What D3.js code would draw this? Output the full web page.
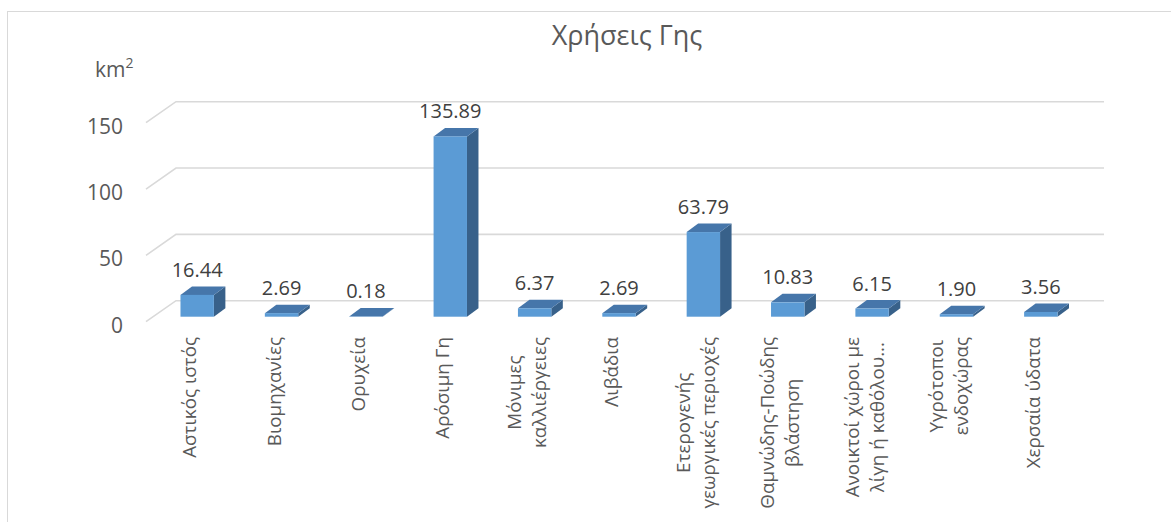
<!DOCTYPE html>
<html>
<head>
<meta charset="utf-8">
<script src="https://cdn.jsdelivr.net/npm/d3@7"></script>
<style>
  html, body { margin: 0; padding: 0; background: #fff; }
  svg { display: block; font-family: "Open Sans", "Noto Sans", sans-serif; }
</style>
</head>
<body>
<svg id="chart" width="1171" height="522"></svg>
<script>
// Land-use categories (line breaks mark wrapped axis labels)
const categories = [
  "Αστικός ιστός",
  "Βιομηχανίες",
  "Ορυχεία",
  "Αρόσιμη Γη",
  "Μόνιμες\nκαλλιέργειες",
  "Λιβάδια",
  "Ετερογενής\nγεωργικές περιοχές",
  "Θαμνώδης-Ποώδης\nβλάστηση",
  "Ανοικτοί χώροι με\nλίγη ή καθόλου...",
  "Υγρότοποι\nενδοχώρας",
  "Χερσαία ύδατα"
];
// Area in km²
const values = [16.44, 2.69, 0.18, 135.89, 6.37, 2.69, 63.79, 10.83, 6.15, 1.90, 3.56];
const yTicks = [0, 50, 100, 150];
const titleText = "Χρήσεις Γης";
const unitText = "km";

const svg = d3.select("#chart");

// Outer chart frame
svg.append("rect")
  .attr("x", 7.5).attr("y", 11.5)
  .attr("width", 1200).attr("height", 600)
  .attr("fill", "none").attr("stroke", "#d9d9d9").attr("stroke-width", 1);

// Perspective: the back wall is shifted right/up from the front floor edge
const depth = { dx: 30, dy: -21 };
const barOffset = { dx: 9, dy: -5 };    // bar front face inside the floor
const barDepth = { dx: 11.5, dy: -8.5 };
const barWidth = 33.4;

// Back-wall value scale
const y = d3.scaleLinear().domain([0, 150]).range([300.7, 101.7]);
// Front floor category scale
const x = d3.scaleBand().domain(categories).range([146, 1074]).padding(0);
const wallRight = 1104;

// Gridlines: diagonal on the side wall + horizontal on the back wall
const grid = svg.append("g").attr("class", "grid");
yTicks.forEach(t => {
  const yb = y(t);
  grid.append("path")
    .attr("d", `M${x.range()[0]},${yb - depth.dy}L${x.range()[0] + depth.dx},${yb}L${wallRight},${yb}`)
    .attr("fill", "none").attr("stroke", "#d9d9d9").attr("stroke-width", 1.6);
});

// Y tick labels at the front edge
svg.append("g").selectAll("text").data(yTicks).join("text")
  .attr("x", 123)
  .attr("y", d => y(d) - depth.dy + 3)
  .attr("text-anchor", "end")
  .attr("dominant-baseline", "central")
  .attr("font-size", 21)
  .attr("fill", "#595959")
  .text(d => d);

// Unit label
const unit = svg.append("text")
  .attr("x", 95).attr("y", 77)
  .attr("font-size", 21).attr("fill", "#595959");
unit.append("tspan").text(unitText);
unit.append("tspan").attr("dy", -9).attr("font-size", 14).text("2");

// Title
svg.append("text")
  .attr("x", 627).attr("y", 45)
  .attr("text-anchor", "middle")
  .attr("font-size", 27)
  .attr("fill", "#595959")
  .text(titleText);

// 3D bars
const baseY = y(0) - depth.dy + barOffset.dy; // front-bottom of bar faces
const bars = svg.append("g").attr("class", "bars");
categories.forEach((c, i) => {
  const v = values[i];
  const h = y(0) - y(v);
  const x0 = x(c) + x.bandwidth() / 2 + barOffset.dx - barWidth / 2;
  const x1 = x0 + barWidth;
  const yTop = baseY - h;
  const g = bars.append("g");
  // right side
  g.append("polygon")
    .attr("points", [[x1, baseY], [x1 + barDepth.dx, baseY + barDepth.dy],
      [x1 + barDepth.dx, yTop + barDepth.dy], [x1, yTop]].map(p => p.join(",")).join(" "))
    .attr("fill", "#38618a");
  // top
  g.append("polygon")
    .attr("points", [[x0, yTop], [x1, yTop], [x1 + barDepth.dx, yTop + barDepth.dy],
      [x0 + barDepth.dx, yTop + barDepth.dy]].map(p => p.join(",")).join(" "))
    .attr("fill", "#4676aa");
  // front
  g.append("rect")
    .attr("x", x0).attr("y", yTop)
    .attr("width", barWidth).attr("height", h)
    .attr("fill", "#5b9bd5");
  // value label
  g.append("text")
    .attr("x", x0 + barWidth / 2)
    .attr("y", yTop + barDepth.dy - 9.5)
    .attr("text-anchor", "middle")
    .attr("font-size", 20)
    .attr("fill", "#404040")
    .text(d3.format(".2f")(v));
});

// Rotated category labels, top-aligned under the floor, lines centred on each other
const labelTop = 337;
const lineGap = 25;
const labels = svg.append("g").attr("class", "x-labels");
categories.forEach(c => {
  const lines = c.split("\n");
  const cx = x(c) + x.bandwidth() / 2 + 1;
  const g = labels.append("g");
  const texts = lines.map(l => g.append("text")
    .attr("font-size", 18.8)
    .attr("fill", "#595959")
    .attr("dominant-baseline", "central")
    .attr("text-anchor", "middle")
    .text(l));
  const widths = texts.map(t => t.node().getComputedTextLength());
  const W = d3.max(widths);
  const n = lines.length;
  texts.forEach((t, k) => {
    const sx = cx + (k - (n - 1) / 2) * lineGap;
    t.attr("transform", `translate(${sx},${labelTop + W / 2}) rotate(-90)`);
  });
});
</script>
</body>
</html>
